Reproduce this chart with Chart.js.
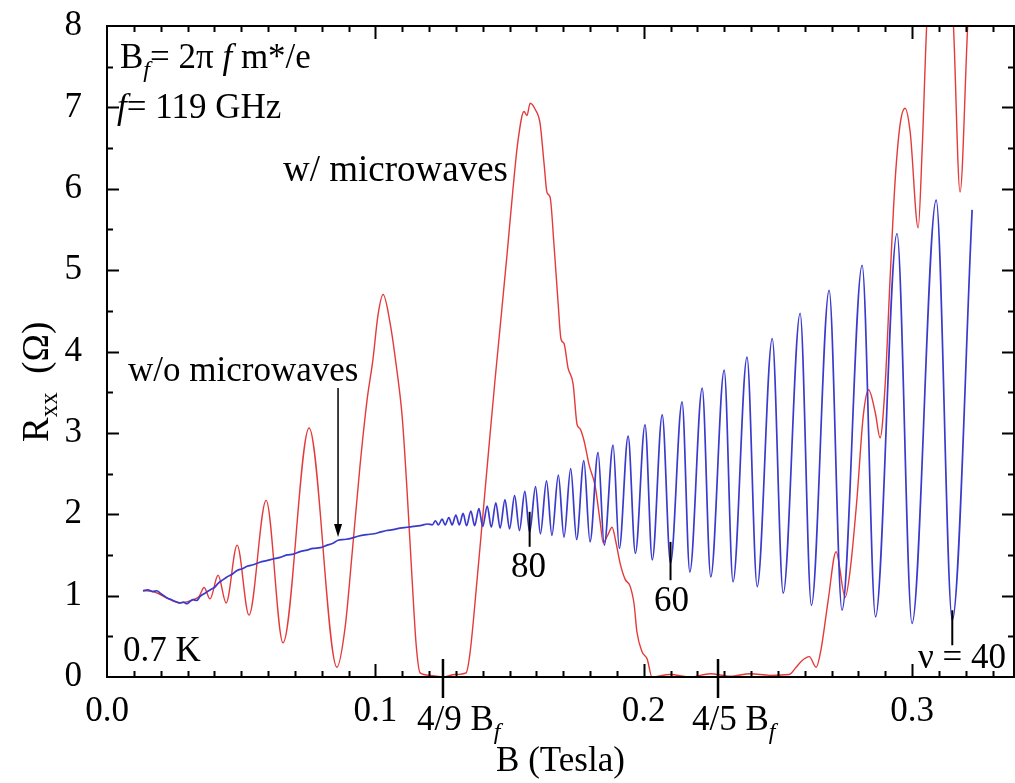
<!DOCTYPE html>
<html><head><meta charset="utf-8">
<script src="https://cdn.jsdelivr.net/npm/chart.js@4.4.1/dist/chart.umd.min.js"></script>
<style>html,body{margin:0;padding:0;background:#fff;overflow:hidden}</style>
</head><body>
<canvas id="c" width="1015" height="783"></canvas>
<script>
// ---- data (B in Tesla, Rxx in Ohm) ----
const blueB = [0.0134,0.0152,0.0171,0.0186,0.0198,0.0212,0.0224,0.0240,0.0253,0.0272,0.0285,0.0298,0.0310,0.0321,0.0335,0.0347,0.0365,0.0384,0.0400,0.0414,0.0430,0.0447,0.0465,0.0485,0.0505,0.0522,0.0545,0.0570,0.0595,0.0619,0.0645,0.0671,0.0695,0.0719,0.0745,0.0768,0.0795,0.0820,0.0840,0.0861,0.0885,0.0906,0.0935,0.0969,0.0995,0.1018,0.1042,0.1066,0.1092,0.1118,0.1142,0.1167,0.1196,
 0.1212,0.1224,0.1235,0.1249,0.1260,0.1274,0.1286,0.1300,0.1313,0.1327,0.1340,0.1356,0.1370,0.1386,0.1400,0.1417,0.1432,0.1449,0.1465,0.1483,0.1500,0.1519,0.1537,0.1557,0.1575,0.1597,0.1615,0.1638,0.1658,0.1682,0.1703,0.1728,0.1750,0.1777,0.1800,0.1830,0.1853,0.1886,0.1909,0.1942,0.1969,0.2005,0.2032,0.2069,0.2100,0.2143,0.2172,0.2218,0.2250,0.2300,0.2333,0.2385,0.2423,0.2479,0.2520,0.2583,0.2625,0.2691,0.2739,0.2814,0.2864,0.2944,0.3000,0.3090,0.3150,0.3224];
const blueR = [1.06,1.07,1.05,1.06,1.03,1.00,0.97,0.95,0.93,0.91,0.92,0.90,0.93,0.95,0.94,0.99,1.03,1.07,1.10,1.15,1.19,1.23,1.26,1.31,1.33,1.36,1.38,1.41,1.43,1.45,1.47,1.50,1.51,1.54,1.56,1.58,1.59,1.62,1.64,1.68,1.69,1.70,1.73,1.75,1.76,1.78,1.80,1.81,1.83,1.84,1.85,1.86,1.88,
 1.87,1.92,1.87,1.94,1.87,1.96,1.87,1.99,1.87,2.01,1.86,2.04,1.86,2.07,1.85,2.10,1.84,2.14,1.83,2.18,1.82,2.23,1.80,2.28,1.78,2.34,1.76,2.41,1.74,2.48,1.72,2.56,1.69,2.66,1.66,2.76,1.62,2.85,1.58,2.96,1.52,3.10,1.44,3.22,1.40,3.38,1.29,3.55,1.23,3.77,1.17,3.93,1.11,4.16,1.03,4.47,0.88,4.75,0.82,5.06,0.74,5.45,0.66,5.86,0.70,5.74];

const redB = [0.0134,0.0171,0.0224,0.0272,0.0321,0.0343,0.0362,0.0384,0.0414,0.0444,0.0485,0.0529,0.0593,0.0656,0.0753,0.0857,0.0887,0.0913,0.0943,0.0969,0.0991,0.1010,0.1029,0.1055,0.1077,0.1100,0.1118,0.1137,0.1152,0.1167,0.1204,0.1252,0.1297,0.1338,0.1353,0.1379,0.1401,0.1428,0.1446,0.1465,0.1491,0.1513,0.1532,0.1554,0.1565,0.1577,0.1595,0.1614,0.1629,0.1640,0.1651,0.1666,0.1681,0.1692,0.1703,0.1718,0.1737,0.1752,0.1763,0.1778,0.1797,0.1819,0.1838,0.1849,0.1867,0.1882,0.1897,0.1912,0.1931,0.1949,0.1964,0.1975,0.1994,0.2013,0.2031,0.2098,0.2173,0.2248,0.2322,0.2397,0.2471,0.2542,0.2568,0.2590,0.2617,0.2643,0.2661,0.2687,0.2717,0.2751,0.2769,0.2795,0.2818,0.2838,0.2863,0.2881,0.2900,0.2918,0.2937,0.2956,0.2974,0.2993,0.3023,0.3038,0.3056,0.3105,0.3153,0.3179,0.3209,0.3254];
const redR = [1.06,1.05,0.97,0.91,0.95,0.99,1.10,0.96,1.25,0.91,1.62,0.76,2.17,0.42,3.06,0.12,0.6,1.5,2.6,3.4,3.9,4.45,4.70,4.35,3.85,3.2,2.3,1.2,0.4,0.05,0.02,0.0,0.03,0.05,0.3,1.19,2.0,3.0,3.65,4.3,5.2,6.0,6.6,6.95,6.9,7.05,6.98,6.8,6.3,5.95,5.9,5.3,4.6,4.15,4.1,3.8,3.6,3.1,3.05,2.9,2.6,2.35,1.9,1.65,1.75,1.84,1.65,1.4,1.2,1.12,0.9,0.55,0.31,0.22,0.0,0.03,0.0,0.04,0.01,0.04,0.02,0.03,0.12,0.2,0.25,0.12,0.34,0.93,1.54,0.98,1.3,2.2,3.2,3.53,3.25,2.94,3.6,4.88,6.1,6.8,6.99,6.7,5.52,6.5,8.1,9.6,8.1,5.96,8.1,9.8];

const xTickVals = [0, 0.1, 0.2, 0.3];
const xTickLabels = ['0.0', '0.1', '0.2', '0.3'];
const yTickVals = [0,1,2,3,4,5,6,7,8];
const yTickLabels = ['0','1','2','3','4','5','6','7','8'];
const fieldMarks = [0.1252, 0.2277];          // 4/9 Bf, 4/5 Bf
const fieldMarkLabels = ['4/9 B', '4/5 B'];
const nuMarks = [80, 60, 40];
const nuMarkB = [0.1575, 0.2100, 0.3150];
const nuMarkTop = [2.03, 1.66, 0.82];
const nuMarkBottom = [1.60, 1.19, 0.39];

const FONT = "'Liberation Serif','Times New Roman',serif";
const FS = 35;

function runs(ctx, parts, x, y, size) {
  size = size || FS;
  for (const p of parts) {
    const s = p.sub ? Math.round(size * 0.68) : size;
    ctx.font = (p.it ? 'italic ' : '') + s + 'px ' + FONT;
    ctx.fillText(p.t, x, y + (p.sub ? 9 : 0));
    x += ctx.measureText(p.t).width;
  }
  return x;
}

const framePlugin = {
  id: 'frame',
  afterDraw(chart) {
    const {ctx, chartArea: a, scales: {x, y}} = chart;
    ctx.save();
    ctx.strokeStyle = '#000'; ctx.fillStyle = '#000';
    ctx.lineWidth = 2;
    ctx.strokeRect(a.left, a.top, a.right - a.left, a.bottom - a.top);
    for (let i = 1; i <= 33; i++) {
      const px = Math.round(x.getPixelForValue(i / 100)) + 0.5;
      const len = (i % 10 === 0) ? 13 : 6;
      ctx.beginPath();
      ctx.moveTo(px, a.bottom); ctx.lineTo(px, a.bottom - len);
      ctx.moveTo(px, a.top); ctx.lineTo(px, a.top + len);
      ctx.stroke();
    }
    for (let i = 1; i < 16; i++) {
      const py = Math.round(y.getPixelForValue(i / 2)) + 0.5;
      const len = (i % 2 === 0) ? 12 : 6;
      ctx.beginPath();
      ctx.moveTo(a.left, py); ctx.lineTo(a.left + len, py);
      ctx.moveTo(a.right, py); ctx.lineTo(a.right - len, py);
      ctx.stroke();
    }
    ctx.lineWidth = 2.5;
    ctx.textBaseline = 'alphabetic'; ctx.textAlign = 'left';
    fieldMarks.forEach((b, i) => {
      const px = x.getPixelForValue(b);
      ctx.beginPath(); ctx.moveTo(px, a.bottom - 18); ctx.lineTo(px, a.bottom + 21); ctx.stroke();
      runs(ctx, [{t: fieldMarkLabels[i]}, {t: 'f', it: true, sub: true}], px - 26, 730);
    });
    ctx.lineWidth = 2;
    nuMarks.forEach((n, i) => {
      const px = x.getPixelForValue(nuMarkB[i]);
      ctx.beginPath();
      ctx.moveTo(px, y.getPixelForValue(nuMarkTop[i]));
      ctx.lineTo(px, y.getPixelForValue(nuMarkBottom[i]));
      ctx.stroke();
    });
    ctx.font = FS + 'px ' + FONT;
    ctx.fillText('80', 511, 577);
    ctx.fillText('60', 654, 611);
    ctx.fillText('\u03bd = 40', 918, 668);
    const ax = x.getPixelForValue(0.0861), ay1 = y.getPixelForValue(3.55), ay2 = y.getPixelForValue(1.72);
    ctx.lineWidth = 1.5;
    ctx.beginPath(); ctx.moveTo(ax, ay1); ctx.lineTo(ax, ay2 - 8); ctx.stroke();
    ctx.beginPath(); ctx.moveTo(ax, ay2); ctx.lineTo(ax - 4, ay2 - 13); ctx.lineTo(ax + 4, ay2 - 13); ctx.closePath(); ctx.fill();
    runs(ctx, [{t: 'B'}, {t: 'f', it: true, sub: true}, {t: '= 2\u03c0 '}, {t: 'f', it: true}, {t: ' m*/e'}], 120, 68);
    runs(ctx, [{t: 'f', it: true}, {t: '= 119 GHz'}], 117, 118);
    ctx.font = '37px ' + FONT;
    ctx.fillText('w/ microwaves', 283, 181);
    ctx.font = FS + 'px ' + FONT;
    ctx.fillText('w/o microwaves', 128, 381);
    ctx.fillText('0.7 K', 123, 661);
    ctx.save();
    ctx.translate(48, 442);
    ctx.rotate(-Math.PI / 2);
    runs(ctx, [{t: 'R'}, {t: 'xx', sub: true}, {t: '  (\u03a9)'}], 0, 0, 37);
    ctx.restore();
    ctx.restore();
  }
};

new Chart(document.getElementById('c'), {
  type: 'line',
  data: {
    datasets: [
      {label: 'w/o microwaves', data: blueB.map((b, i) => ({x: b, y: blueR[i]})),
       borderColor: 'rgb(58,58,205)', borderWidth: 1.7, pointRadius: 0, cubicInterpolationMode: 'monotone'},
      {label: 'w/ microwaves', data: redB.map((b, i) => ({x: b, y: redR[i]})),
       borderColor: 'rgb(228,58,58)', borderWidth: 1.4, pointRadius: 0, cubicInterpolationMode: 'monotone'}
    ]
  },
  options: {
    responsive: false, animation: false, devicePixelRatio: 1,
    layout: {padding: {top: 26, right: 1, left: 0, bottom: 0}},
    plugins: {legend: {display: false}, tooltip: {enabled: false}},
    scales: {
      x: {
        type: 'linear', min: 0, max: 0.338,
        afterFit(s) { s.height = 106; s.paddingLeft = 0; s.paddingRight = 0; },
        afterBuildTicks(s) { s.ticks = xTickVals.map(v => ({value: v})); },
        grid: {display: false}, border: {display: false},
        ticks: {autoSkip: false, maxRotation: 0, padding: 6, color: '#000',
                font: {family: FONT, size: FS},
                callback: (v, i) => xTickLabels[i]},
        title: {display: true, text: 'B (Tesla)', color: '#000', font: {family: FONT, size: FS}, padding: {top: 0, bottom: 0}}
      },
      y: {
        type: 'linear', min: 0, max: 8,
        afterFit(s) { s.width = 107; s.paddingTop = 0; s.paddingBottom = 0; },
        afterBuildTicks(s) { s.ticks = yTickVals.map(v => ({value: v})); },
        grid: {display: false}, border: {display: false},
        ticks: {padding: 17, color: '#000', font: {family: FONT, size: FS},
                callback: (v, i) => yTickLabels[i]}
      }
    }
  },
  plugins: [framePlugin]
});
</script>
</body></html>
